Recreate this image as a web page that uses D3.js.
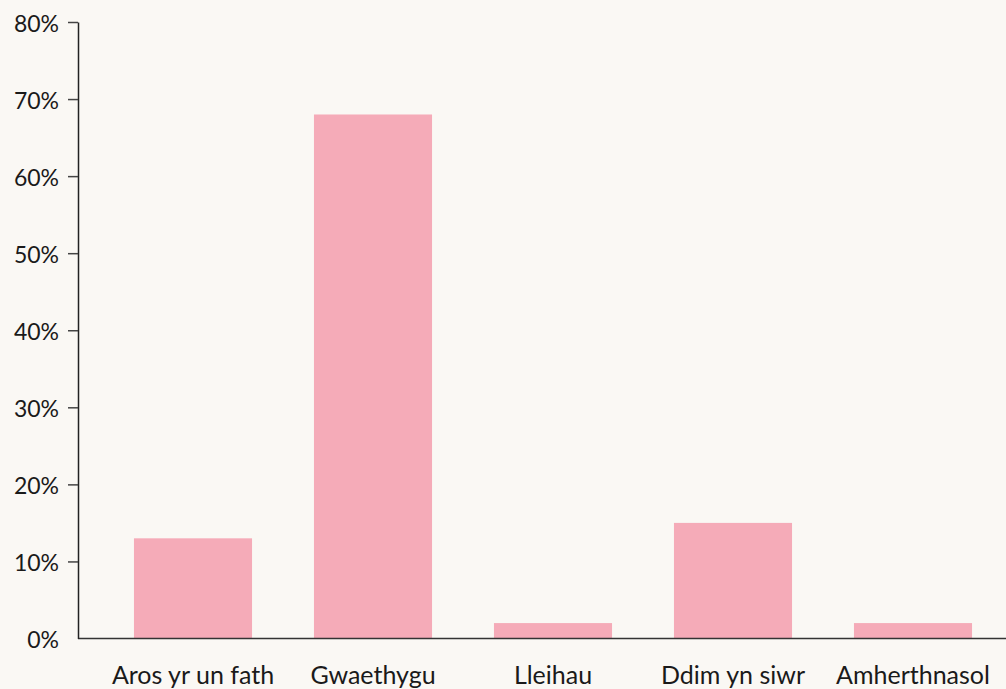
<!DOCTYPE html>
<html>
<head>
<meta charset="utf-8">
<script src="https://cdn.jsdelivr.net/npm/d3@7"></script>
<style>
  body { margin: 0; background: #faf8f4; }
  svg { display: block; font-family: Lato, "Open Sans", sans-serif; }
</style>
</head>
<body>
<svg class="canvas"></svg>
<script>
const categories = ["Aros yr un fath", "Gwaethygu", "Lleihau", "Ddim yn siwr", "Amherthnasol"];
const values = [13, 68, 2, 15, 2];
const yTicks = [0, 10, 20, 30, 40, 50, 60, 70, 80];

const width = 1006;
const height = 689;

const svg = d3.select(".canvas")
	.attr("width", width)
	.attr("height", height);

svg.append("rect")
	.attr("width", width)
	.attr("height", height)
	.attr("fill", "#faf8f4");

const x = d3.scaleBand()
	.domain(categories)
	.range([103, 1003])
	.paddingInner(0.344)
	.paddingOuter(0.172);

const y = d3.scaleLinear()
	.domain([0, 80])
	.range([638.5, 22]);

// bars
svg.selectAll(".bar")
	.data(values)
	.join("rect")
	.attr("class", "bar")
	.attr("x", (d, i) => x(categories[i]))
	.attr("y", d => y(d))
	.attr("width", x.bandwidth())
	.attr("height", d => y(0) - y(d))
	.attr("fill", "#f5abb8");

// x axis
const xAxis = svg.append("g")
	.attr("transform", `translate(0, ${y(0)})`)
	.call(d3.axisBottom(x).tickSize(0).tickPadding(28));

xAxis.select(".domain").remove();
xAxis.append("line")
	.attr("x1", 78)
	.attr("x2", width)
	.attr("stroke", "#333")
	.attr("stroke-width", 1.5);

xAxis.selectAll("text")
	.attr("font-size", 25)
	.attr("font-family", "Lato, 'Open Sans', sans-serif")
	.attr("fill", "#1a1a1a");

// y axis
const yAxis = svg.append("g")
	.attr("transform", "translate(78, 0)")
	.call(d3.axisLeft(y)
		.tickValues(yTicks)
		.tickFormat(d => d + "%")
		.tickSize(10)
		.tickSizeOuter(0)
		.tickPadding(9));

yAxis.select(".domain")
	.attr("stroke", "#222")
	.attr("stroke-width", 1.5);

yAxis.selectAll(".tick line")
	.attr("stroke", "#444")
	.attr("stroke-width", 1.5)
	.filter(d => d === 0).remove();

yAxis.selectAll("text")
	.attr("font-size", 23)
	.attr("dy", "0.4em")
	.attr("font-family", "Lato, 'Open Sans', sans-serif")
	.attr("fill", "#1a1a1a");
</script>
</body>
</html>
